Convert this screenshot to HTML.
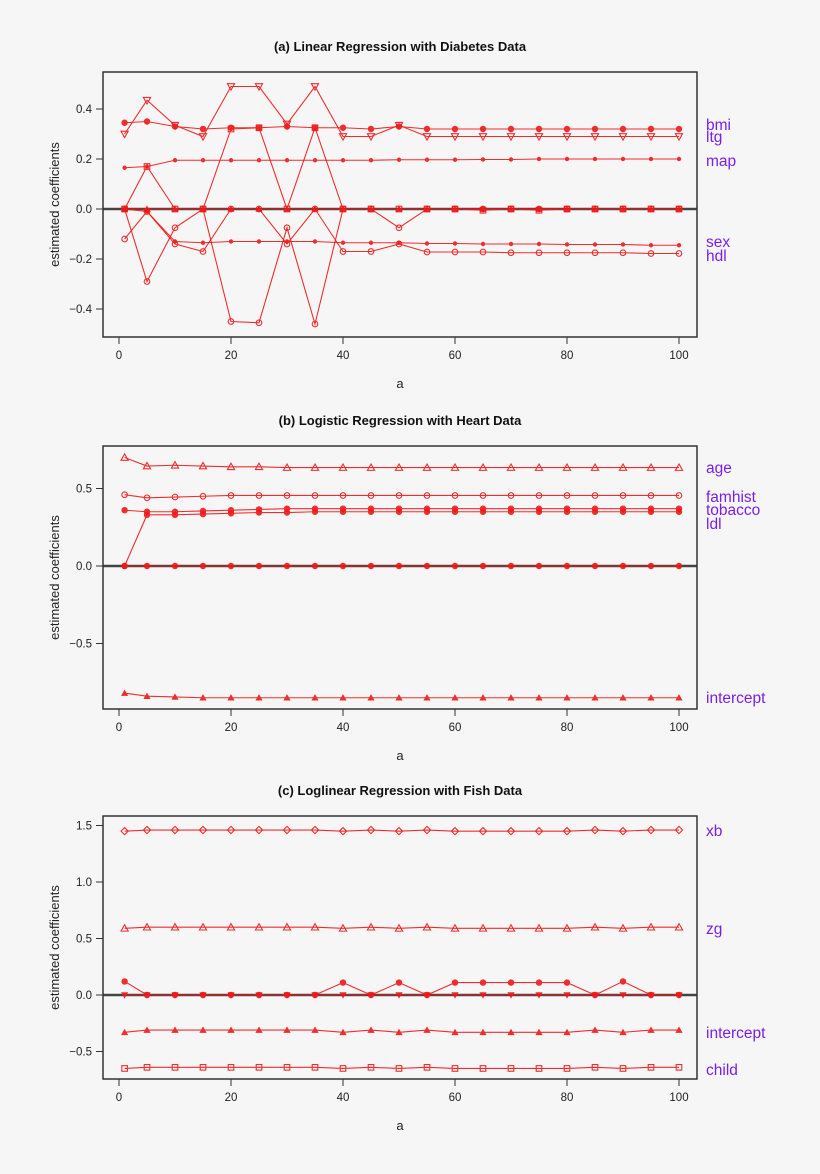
<!DOCTYPE html>
<html><head><meta charset="utf-8"><style>
body{margin:0;background:#f6f6f6;}
svg{display:block;font-family:"Liberation Sans",sans-serif;}
</style></head><body>
<svg id="chart" width="820" height="1174" viewBox="0 0 820 1174"></svg>
<script>
const xs = [1,5,10,15,20,25,30,35,40,45,50,55,60,65,70,75,80,85,90,95,100];
const xTicks = [0,20,40,60,80,100];
// Panel (a)
const aBmi = [0.345,0.35,0.33,0.32,0.325,0.325,0.33,0.325,0.325,0.32,0.33,0.32,0.32,0.32,0.32,0.32,0.32,0.32,0.32,0.32,0.32];
const aLtg = [0.30,0.435,0.335,0.29,0.49,0.49,0.34,0.49,0.29,0.29,0.335,0.29,0.29,0.29,0.29,0.29,0.29,0.29,0.29,0.29,0.29];
const aMap = [0.165,0.17,0.195,0.195,0.195,0.195,0.195,0.195,0.195,0.195,0.197,0.197,0.197,0.198,0.198,0.2,0.2,0.2,0.2,0.2,0.2];
const aSq = [0,0.17,0,0,0.32,0.325,0,0.325,0,0,0,0,0,-0.005,0,-0.005,0,0,0,0,0];
const aSex = [0,-0.01,-0.13,-0.135,-0.13,-0.13,-0.13,-0.13,-0.135,-0.135,-0.135,-0.138,-0.138,-0.14,-0.14,-0.14,-0.142,-0.142,-0.142,-0.145,-0.145];
const aHdl = [-0.12,-0.01,-0.14,-0.17,0,0,-0.14,0,-0.17,-0.17,-0.14,-0.172,-0.172,-0.172,-0.175,-0.175,-0.175,-0.175,-0.175,-0.178,-0.178];
const aCirc = [0,-0.29,-0.075,0,-0.45,-0.455,-0.075,-0.46,0,0,-0.075,0,0,0,0,0,0,0,0,0,0];
const aTri = [0,0,0,0,0,0,0,0,0,0,0,0,0,0,0,0,0,0,0,0,0];
// Panel (b)
const bAge = [0.7,0.645,0.65,0.645,0.64,0.64,0.635,0.635,0.635,0.635,0.635,0.635,0.635,0.635,0.635,0.635,0.635,0.635,0.635,0.635,0.635];
const bFam = [0.46,0.44,0.445,0.45,0.455,0.455,0.455,0.455,0.455,0.455,0.455,0.455,0.455,0.455,0.455,0.455,0.455,0.455,0.455,0.455,0.455];
const bTob = [0.36,0.35,0.35,0.355,0.36,0.365,0.37,0.37,0.37,0.37,0.37,0.37,0.37,0.37,0.37,0.37,0.37,0.37,0.37,0.37,0.37];
const bLdl = [0,0.33,0.33,0.335,0.34,0.345,0.345,0.35,0.35,0.35,0.35,0.35,0.35,0.35,0.35,0.35,0.35,0.35,0.35,0.35,0.35];
const bInt = [-0.82,-0.84,-0.845,-0.85,-0.85,-0.85,-0.85,-0.85,-0.85,-0.85,-0.85,-0.85,-0.85,-0.85,-0.85,-0.85,-0.85,-0.85,-0.85,-0.85,-0.85];
const bZero = [0,0,0,0,0,0,0,0,0,0,0,0,0,0,0,0,0,0,0,0,0];
// Panel (c)
const cXb = [1.45,1.46,1.46,1.46,1.46,1.46,1.46,1.46,1.45,1.46,1.45,1.46,1.45,1.45,1.45,1.45,1.45,1.46,1.45,1.46,1.46];
const cZg = [0.59,0.6,0.6,0.6,0.6,0.6,0.6,0.6,0.59,0.6,0.59,0.6,0.59,0.59,0.59,0.59,0.59,0.6,0.59,0.6,0.6];
const cDot = [0.12,0,0,0,0,0,0,0,0.11,0,0.11,0,0.11,0.11,0.11,0.11,0.11,0,0.12,0,0];
const cZero = [0,0,0,0,0,0,0,0,0,0,0,0,0,0,0,0,0,0,0,0,0];
const cInt = [-0.33,-0.31,-0.31,-0.31,-0.31,-0.31,-0.31,-0.31,-0.33,-0.31,-0.33,-0.31,-0.33,-0.33,-0.33,-0.33,-0.33,-0.31,-0.33,-0.31,-0.31];
const cChild = [-0.65,-0.64,-0.64,-0.64,-0.64,-0.64,-0.64,-0.64,-0.65,-0.64,-0.65,-0.64,-0.65,-0.65,-0.65,-0.65,-0.65,-0.64,-0.65,-0.64,-0.64];

const NS="http://www.w3.org/2000/svg";
const svg=document.getElementById('chart');
function mk(tag,attrs,parent){const e=document.createElementNS(NS,tag);for(const k in attrs)e.setAttribute(k,attrs[k]);(parent||svg).appendChild(e);return e;}
const RED="#f01818";

function marker(g,shape,cx,cy){
  let e;
  if(shape==='dot'){e=mk('circle',{cx,cy,r:2.2,fill:RED},g);}
  else if(shape==='fcirc'){e=mk('circle',{cx,cy,r:3.2,fill:RED},g);}
  else if(shape==='ocirc'){e=mk('circle',{cx,cy,r:2.8,fill:'none',stroke:RED,'stroke-width':1.1},g);}
  else if(shape==='tri'){e=mk('polygon',{points:`${cx},${cy-3.6} ${cx-3.6,cx-3.6},${cy+2.8} ${cx+3.6},${cy+2.8}`,fill:'none',stroke:RED,'stroke-width':1.1},g);}
  else if(shape==='ftri'){e=mk('polygon',{points:`${cx},${cy-3.6} ${cx-3.6},${cy+2.8} ${cx+3.6},${cy+2.8}`,fill:RED},g);}
  else if(shape==='dtri'){e=mk('polygon',{points:`${cx},${cy+3.6} ${cx-3.6},${cy-2.8} ${cx+3.6},${cy-2.8}`,fill:'none',stroke:RED,'stroke-width':1.1},g);}
  else if(shape==='fdtri'){e=mk('polygon',{points:`${cx},${cy+3.6} ${cx-3.6},${cy-2.8} ${cx+3.6},${cy-2.8}`,fill:RED},g);}
  else if(shape==='sq'){e=mk('rect',{x:cx-2.8,y:cy-2.8,width:5.6,height:5.6,fill:'none',stroke:RED,'stroke-width':1.1},g);}
  else if(shape==='dia'){e=mk('polygon',{points:`${cx},${cy-3.6} ${cx+3.6},${cy} ${cx},${cy+3.6} ${cx-3.6},${cy}`,fill:'none',stroke:RED,'stroke-width':1.1},g);}
  
  
}

function panel(p){
  const L=103,R=697,T=p.top,B=p.bottom;
  const xs2px=v=>119+(v-0)*5.6;
  const yp=v=>p.y0+(v)*(-p.scale);
  const g=mk('g',{});
  
  
  const title=mk('text',{x:400,y:T-21,'text-anchor':'middle','font-size':13,'font-weight':'bold',fill:'#111'},g);
  title.textContent=p.title;
  
  
  const z=mk('line',{x1:L,x2:R,y1:yp(0),y2:yp(0),stroke:'#444','stroke-width':2.5},g);
  
  
  p.series.forEach(s=>{
    const sg=mk('g',{opacity:0.9},g);
    
    
    const pts=s.v.map((v,i)=>xs2px(xs[i])+','+yp(v)).join(' ');
    mk('polyline',{points:pts,fill:'none',stroke:RED,'stroke-width':1.1},sg);
    s.v.forEach((v,i)=>marker(sg,s.shape,xs2px(xs[i]),yp(v)));
  });
  const box=mk('rect',{x:L,y:T,width:R-L,height:B-T,fill:'none',stroke:'#333','stroke-width':1.5},g);
  
  
  xTicks.forEach(t=>{
    const x=xs2px(t);
    mk('line',{x1:x,x2:x,y1:B,y2:B+7,stroke:'#333','stroke-width':1},g);
    const tx=mk('text',{x,y:B+22,'text-anchor':'middle','font-size':11.5,fill:'#222'},g);
    tx.textContent=t;
    
    
  });
  p.yTicks.forEach((t,i)=>{
    const y=yp(t);
    mk('line',{x1:L-7,x2:L,y1:y,y2:y,stroke:'#333','stroke-width':1},g);
    const tx=mk('text',{x:L-11,y:y+4,'text-anchor':'end','font-size':11.5,fill:'#222'},g);
    tx.textContent=p.yLabels[i];
    
    
  });
  const xa=mk('text',{x:400,y:B+51,'text-anchor':'middle','font-size':13,fill:'#222'},g);
  xa.textContent='a';
  
  
  const cy=(T+B)/2;
  const ya=mk('text',{x:59,y:cy,'text-anchor':'middle','font-size':13,fill:'#222',transform:`rotate(-90 59 ${cy})`},g);
  ya.textContent='estimated coefficients';
  
  
  p.labels.forEach(l=>{
    const t=mk('text',{x:706,y:l.y,'font-size':15.5,fill:'#7a1fe8'},g);
    t.textContent=l.t;
    
    
  });
}

panel({name:'panel-a-diabetes',title:'(a) Linear Regression with Diabetes Data',top:72,bottom:337,y0:209,scale:250,
  yTicks:[0.4,0.2,0,-0.2,-0.4],yLabels:['0.4','0.2','0.0','\u22120.2','\u22120.4'],
  series:[{id:'tri',v:aTri,shape:'ftri'},{id:'circ',v:aCirc,shape:'ocirc'},{id:'sq',v:aSq,shape:'sq'},{id:'hdl',v:aHdl,shape:'ocirc'},
    {id:'sex',v:aSex,shape:'dot'},{id:'map',v:aMap,shape:'dot'},{id:'ltg',v:aLtg,shape:'dtri'},{id:'bmi',v:aBmi,shape:'fcirc'}],
  labels:[{t:'bmi',y:130},{t:'ltg',y:142},{t:'map',y:166},{t:'sex',y:247},{t:'hdl',y:261}]});

panel({name:'panel-b-heart',title:'(b) Logistic Regression with Heart Data',top:446,bottom:709,y0:566,scale:155,
  yTicks:[0.5,0,-0.5],yLabels:['0.5','0.0','\u22120.5'],
  series:[{id:'zero',v:bZero,shape:'fcirc'},{id:'ldl',v:bLdl,shape:'fcirc'},{id:'tobacco',v:bTob,shape:'fcirc'},{id:'famhist',v:bFam,shape:'ocirc'},
    {id:'age',v:bAge,shape:'tri'},{id:'intercept',v:bInt,shape:'ftri'}],
  labels:[{t:'age',y:473},{t:'famhist',y:502},{t:'tobacco',y:515},{t:'ldl',y:529},{t:'intercept',y:703}]});

panel({name:'panel-c-fish',title:'(c) Loglinear Regression with Fish Data',top:816,bottom:1079,y0:995,scale:113,
  yTicks:[1.5,1.0,0.5,0,-0.5],yLabels:['1.5','1.0','0.5','0.0','\u22120.5'],
  series:[{id:'zero',v:cZero,shape:'fdtri'},{id:'dot',v:cDot,shape:'fcirc'},{id:'xb',v:cXb,shape:'dia'},{id:'zg',v:cZg,shape:'tri'},
    {id:'intercept',v:cInt,shape:'ftri'},{id:'child',v:cChild,shape:'sq'}],
  labels:[{t:'xb',y:836},{t:'zg',y:934},{t:'intercept',y:1038},{t:'child',y:1075}]});
</script>
</body></html>
